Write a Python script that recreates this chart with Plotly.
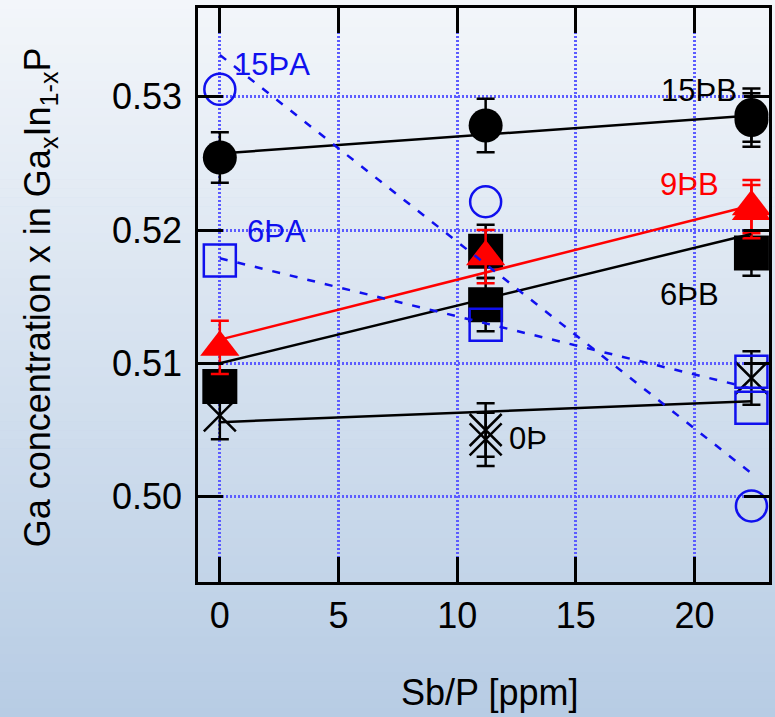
import plotly.graph_objects as go

# ---------------- data ----------------
x15B = [0, 11.2, 22.4, 22.4]
y15B = [0.52544, 0.52784, 0.52862, 0.52825]
e15B = [0.0019, 0.002, 0.002, 0.002]

x15A = [0, 11.2, 22.4]
y15A = [0.53055, 0.52212, 0.4993]

x6A = [0, 11.2, 22.4, 22.4]
y6A = [0.51771, 0.5129, 0.50937, 0.50667]

x6B = [0, 11.2, 11.2, 22.4]
y6B = [0.50826, 0.5184, 0.5144, 0.51827]
e6B = [0.001, 0.002, 0.002, 0.0017]

x9B = [0, 11.2, 22.4, 22.4]
y9B = [0.5112, 0.5180, 0.52175, 0.52138]
e9B = [0.002, 0.002, 0.002, 0.002]

x0P = [0, 11.2, 11.2, 22.4]
y0P = [0.5061, 0.5050, 0.5043, 0.5089]
e0P = [0.0018, 0.002, 0.002, 0.002]

fit_x = [0, 22.4]
fit15B = [0.52574, 0.52858]
fit15A = [0.53313, 0.50175]
fit6A = [0.51788, 0.50812]
fit6B = [0.5100, 0.5197]
fit9B = [0.51178, 0.52184]
fit0P = [0.50559, 0.50716]

x_ticks = [0, 5, 10, 15, 20]
y_ticks = [0.50, 0.51, 0.52, 0.53]

labels = [
    ("15ÞA", 2.18, 0.53245, "#1010ee"),
    ("6ÞA", 2.39, 0.51990, "#1010ee"),
    ("15ÞB", 20.17, 0.53043, "black"),
    ("9ÞB", 19.8, 0.52338, "#ff0000"),
    ("6ÞB", 19.8, 0.51513, "black"),
    ("0Þ", 13.0, 0.5044, "black"),
]

BLUE = "#1010ee"
RED = "#ff0000"
FONT = "Liberation Sans, Arial, sans-serif"

W, H = 775, 717
L, R, T, B = 198, 3, 8, 135
PW, PH = W - L - R, H - T - B

fig = go.Figure()

def err(arr, color):
    return dict(type="data", array=arr, visible=True, color=color,
                thickness=2.5, width=9)

# markers
fig.add_trace(go.Scatter(x=x6B, y=y6B, mode="markers",
    marker=dict(symbol="square", size=35, color="black", line=dict(width=0)),
    error_y=err(e6B, "black")))
fig.add_trace(go.Scatter(x=x15B, y=y15B, mode="markers",
    marker=dict(symbol="circle", size=34, color="black", line=dict(width=0)),
    error_y=err(e15B, "black")))
fig.add_trace(go.Scatter(x=x0P, y=y0P, mode="markers",
    marker=dict(symbol="x-thin-open", size=32, color="black",
                line=dict(width=2.5, color="black")),
    error_y=err(e0P, "black")))
fig.add_trace(go.Scatter(x=x9B, y=y9B, mode="markers",
    marker=dict(symbol="triangle-up", size=34, color=RED, line=dict(width=0)),
    error_y=err(e9B, RED)))
fig.add_trace(go.Scatter(x=x6A, y=y6A, mode="markers",
    marker=dict(symbol="square-open", size=32, color=BLUE,
                line=dict(width=2.5, color=BLUE))))
fig.add_trace(go.Scatter(x=x15A, y=y15A, mode="markers",
    marker=dict(symbol="circle-open", size=31, color=BLUE,
                line=dict(width=2.5, color=BLUE))))

# fit lines
for yy, col, dash in [(fit15B, "black", "solid"), (fit6B, "black", "solid"),
                      (fit0P, "black", "solid"), (fit9B, RED, "solid"),
                      (fit15A, BLUE, "8px,10px"), (fit6A, BLUE, "8px,10px")]:
    fig.add_trace(go.Scatter(x=fit_x, y=yy, mode="lines",
                             line=dict(color=col, width=2.5, dash=dash)))

# background gradient
top = (243, 246, 250)
bot = (183, 204, 228)
N = 80
shapes = []
for i in range(N):
    py0 = i * H / N
    py1 = (i + 1) * H / N + 0.6
    t = (i + 0.5) / N
    c = tuple(round(top[k] + (bot[k] - top[k]) * t) for k in range(3))
    shapes.append(dict(type="rect", xref="paper", yref="paper", layer="below",
                       x0=-L / PW - 0.01, x1=1 + R / PW + 0.01,
                       y0=(H - B - py1) / PH, y1=(H - B - py0) / PH,
                       fillcolor="rgb(%d,%d,%d)" % c, line=dict(width=0)))

annotations = []
for txt, lx, ly, col in labels:
    annotations.append(dict(x=lx, y=ly, xref="x", yref="y", text=txt,
                            showarrow=False, xanchor="center", yanchor="middle",
                            font=dict(family=FONT, size=31, color=col)))
annotations.append(dict(x=(491 - L) / PW, y=(H - B - 692) / PH, xref="paper",
                        yref="paper", text="Sb/P [ppm]", showarrow=False,
                        xanchor="center", yanchor="middle",
                        font=dict(family=FONT, size=36, color="black")))
annotations.append(dict(x=(39 - L) / PW, y=(H - B - 297.5) / PH, xref="paper",
                        yref="paper",
                        text="Ga concentration x in Ga<sub>x</sub>In<sub>1-x</sub>P",
                        showarrow=False, textangle=-90,
                        xanchor="center", yanchor="middle",
                        font=dict(family=FONT, size=36, color="black")))

axis_common = dict(showline=True, linecolor="black", linewidth=2.5,
                   mirror="ticks", ticks="inside", ticklen=25, tickwidth=2.5,
                   tickcolor="black", showgrid=True, gridcolor="#5c5cff",
                   gridwidth=2.5, griddash="2px,2px", zeroline=False,
                   tickfont=dict(family=FONT, size=36, color="black"))

fig.update_layout(
    width=W, height=H,
    margin=dict(l=L, r=R, t=T, b=B),
    paper_bgcolor="rgb(%d,%d,%d)" % bot,
    plot_bgcolor="rgba(0,0,0,0)",
    showlegend=False,
    shapes=shapes,
    annotations=annotations,
    xaxis=dict(range=[-0.92, 23.14], tickvals=x_ticks,
               ticklabelstandoff=0, **axis_common),
    yaxis=dict(range=[0.4936, 0.53665], tickvals=y_ticks, tickformat=".2f",
               ticklabelstandoff=6, **axis_common),
)

fig.write_html("out.html", config={"displayModeBar": False},
               post_script="document.body.style.margin='0px';"
                           "document.body.style.overflow='hidden';")
